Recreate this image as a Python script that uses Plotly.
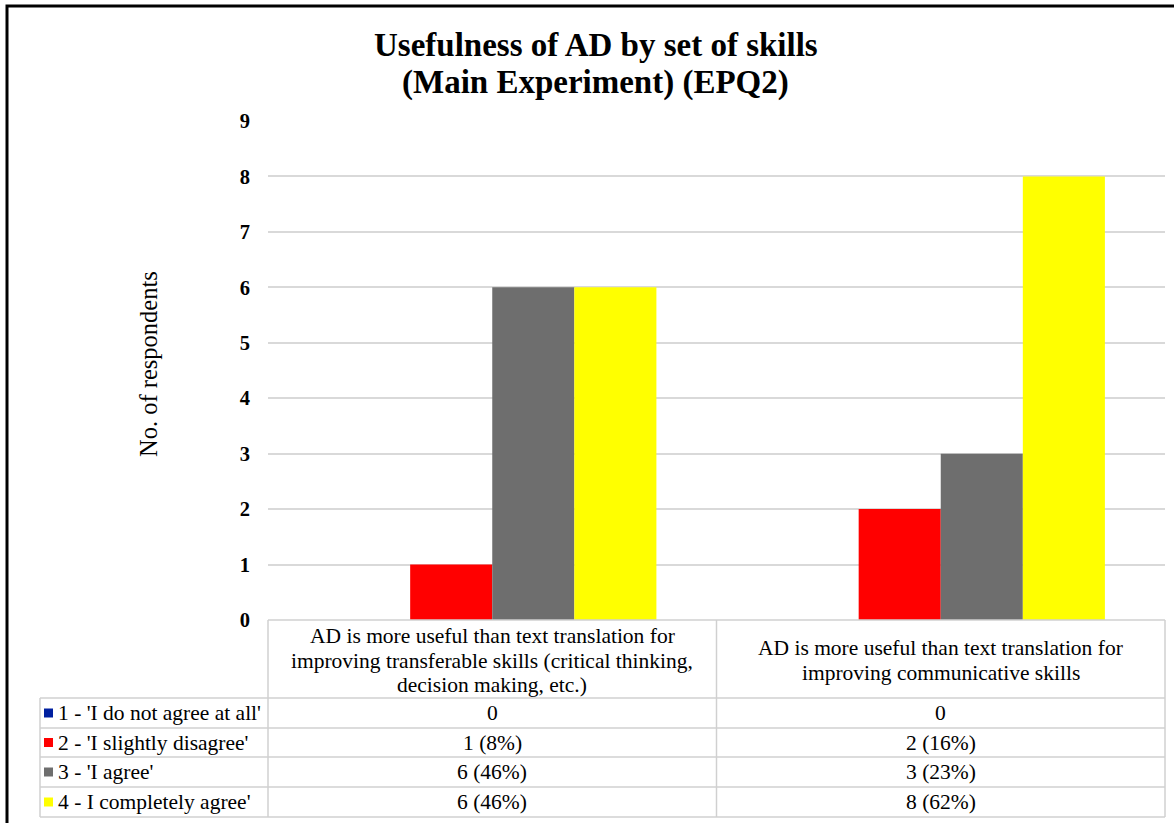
import textwrap
import plotly.graph_objects as go

# ---------------- data ----------------
title_lines = ["Usefulness of AD by set of skills", "(Main Experiment) (EPQ2)"]
categories = [
    "AD is more useful than text translation for improving transferable skills (critical thinking, decision making, etc.)",
    "AD is more useful than text translation for improving communicative skills",
]
series_names = [
    "1 - 'I do not agree at all'",
    "2 - 'I slightly disagree'",
    "3 - 'I agree'",
    "4 - I completely agree'",
]
values_1 = [0, 0]
values_2 = [1, 2]
values_3 = [6, 3]
values_4 = [6, 8]
pct_1 = [None, None]
pct_2 = [8, 16]
pct_3 = [46, 23]
pct_4 = [46, 62]
y_ticks = [0, 1, 2, 3, 4, 5, 6, 7, 8, 9]
y_title = "No. of respondents"

# ---------------- styles ----------------
series_colors = ["#0020A0", "#FF0000", "#6E6E6E", "#FFFF00"]
FONT = "Liberation Serif"
W, H = 1174, 823
PL, PR, PT, PB = 268, 1165, 121, 620
TABLE_L = 40
ROW_LINES = [698, 728, 757, 787, 817]
GRID = "#D9D9D9"
TLINE = "#D0D0D0"
TFS = 21.5


def px(x):
    return x / W


def py(y):
    return 1 - y / H


all_values = [values_1, values_2, values_3, values_4]
all_pcts = [pct_1, pct_2, pct_3, pct_4]

fig = go.Figure()
for name, vals, col in zip(series_names, all_values, series_colors):
    fig.add_trace(go.Bar(x=categories, y=vals, name=name, marker=dict(color=col, line=dict(width=0))))

annotations = []
shapes = []

# title
for i, line in enumerate(title_lines):
    annotations.append(dict(x=px(596), y=py(45 + 37 * i), xref="paper", yref="paper", text=line,
                            showarrow=False, xanchor="center", yanchor="middle",
                            font=dict(family=FONT, size=33, color="black", weight="bold")))

# y title
annotations.append(dict(x=px(148), y=py(364), xref="paper", yref="paper", text=y_title,
                        showarrow=False, textangle=-90, xanchor="center", yanchor="middle",
                        font=dict(family=FONT, size=24.5, color="black")))

ncat = len(categories)
col_w = (PR - PL) / ncat
col_centers = [PL + col_w * (i + 0.5) for i in range(ncat)]

# header text
for c, cat in zip(col_centers, categories):
    lines = textwrap.wrap(cat, width=49)
    n = len(lines)
    mid = (PB + ROW_LINES[0]) / 2 + 1.5
    for j, ln in enumerate(lines):
        yy = mid + (j - (n - 1) / 2) * 24.5
        annotations.append(dict(x=px(c), y=py(yy), xref="paper", yref="paper", text=ln,
                                showarrow=False, xanchor="center", yanchor="middle",
                                font=dict(family=FONT, size=TFS, color="black")))

# rows
for r, (name, vals, pcts, col) in enumerate(zip(series_names, all_values, all_pcts, series_colors)):
    yc = (ROW_LINES[r] + ROW_LINES[r + 1]) / 2
    shapes.append(dict(type="rect", xref="paper", yref="paper", x0=px(44), x1=px(53),
                       y0=py(yc - 4.5), y1=py(yc + 4.5), fillcolor=col, line=dict(width=0)))
    annotations.append(dict(x=px(56), y=py(yc), xref="paper", yref="paper", text=name,
                            showarrow=False, xanchor="left", yanchor="middle",
                            font=dict(family=FONT, size=TFS, color="black")))
    for c, v, p in zip(col_centers, vals, pcts):
        txt = f"{v}" if p is None else f"{v} ({p}%)"
        annotations.append(dict(x=px(c), y=py(yc), xref="paper", yref="paper", text=txt,
                                showarrow=False, xanchor="center", yanchor="middle",
                                font=dict(family=FONT, size=TFS, color="black")))

# table lines
def hline(x0, x1, y):
    shapes.append(dict(type="line", xref="paper", yref="paper", x0=px(x0), x1=px(x1), y0=py(y), y1=py(y),
                       line=dict(color=TLINE, width=1.5)))


def vline(x, y0, y1):
    shapes.append(dict(type="line", xref="paper", yref="paper", x0=px(x), x1=px(x), y0=py(y0), y1=py(y1),
                       line=dict(color=TLINE, width=1.5)))


hline(PL, PR, PB)
for yl in ROW_LINES:
    hline(TABLE_L, PR, yl)
vline(TABLE_L, ROW_LINES[0], ROW_LINES[-1])
vline(PL, PB, ROW_LINES[-1])
for i in range(1, ncat):
    vline(PL + col_w * i, PB, ROW_LINES[-1])
vline(PR, PB, ROW_LINES[-1])

# outer frame
shapes.append(dict(type="rect", xref="paper", yref="paper", x0=px(7), y0=py(6), x1=1.1, y1=-0.1,
                   line=dict(color="black", width=3), fillcolor="rgba(0,0,0,0)"))

fig.update_layout(
    template="none",
    width=W, height=H, autosize=False,
    margin=dict(l=0, r=0, t=0, b=0, pad=0),
    paper_bgcolor="white", plot_bgcolor="white",
    barmode="group", bargap=0.268, bargroupgap=0,
    showlegend=False,
    font=dict(family=FONT, color="black"),
    xaxis=dict(domain=[px(PL), px(PR)], range=[-0.5, ncat - 0.5], showticklabels=False,
               showgrid=False, zeroline=False, showline=False, fixedrange=True,
               automargin=False, ticks=""),
    yaxis=dict(domain=[py(PB), py(PT)], range=[0, 9], tickvals=y_ticks,
               ticktext=[str(t) for t in y_ticks],
               tickfont=dict(family=FONT, size=20.5, color="black", weight="bold"),
               ticklabelstandoff=17, ticks="",
               showgrid=True, gridcolor=GRID, gridwidth=1.5, zeroline=False, showline=False,
               fixedrange=True, automargin=False),
    annotations=annotations,
    shapes=shapes,
)

fig.write_html("out.html", config={"displayModeBar": False},
               post_script="document.body.style.margin='0';document.body.style.overflow='hidden';")
